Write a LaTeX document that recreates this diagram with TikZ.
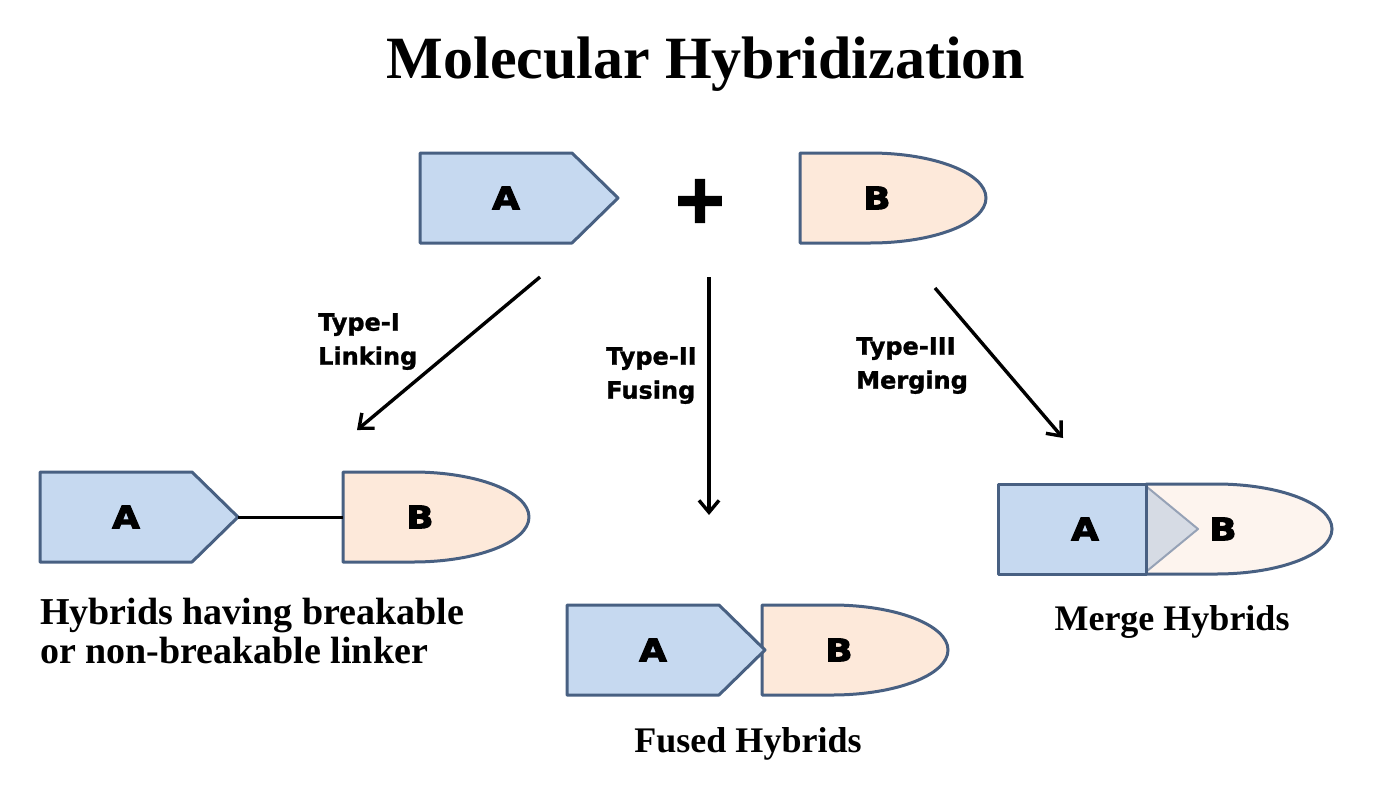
\documentclass[tikz,border=0pt]{standalone}
\usepackage{fontspec}
\setmainfont{Liberation Serif}
\newfontfamily\typefont[FakeBold=1.2]{DejaVu Sans Bold}
\newfontfamily\letterfont[FakeBold=3.5,FakeStretch=1.15]{DejaVu Sans Bold}
\newfontfamily\plusfont[FakeBold=4]{DejaVu Sans Bold}
\usetikzlibrary{arrows.meta}

\definecolor{fillA}{RGB}{198,217,240}
\definecolor{fillB}{RGB}{253,233,218}
\definecolor{fillBm}{RGB}{253,244,238}
\definecolor{edgeC}{RGB}{72,96,130}
\definecolor{triFill}{RGB}{214,219,228}
\definecolor{triEdge}{RGB}{150,162,182}

\begin{document}
\begin{tikzpicture}[x=1pt,y=-1pt]

    \tikzset{
      edge/.style = {draw=edgeC, line width=3pt, line join=round},
      letter/.style = {font=\letterfont\fontsize{31}{31}\selectfont, inner sep=0pt},
      typelbl/.style = {font=\typefont\fontsize{24}{34}\selectfont,
                        align=left, anchor=north west, inner sep=0pt},
      caption/.style = {font=\bfseries\fontsize{36}{39}\selectfont, inner sep=0pt},
      route/.style = {line width=3.4pt, -{Straight Barb[length=12pt,width=20pt,line width=3.4pt]}},
      pics/fragA/.style = {code={
        \draw[edge, fill=fillA] (0,0) -- (152,0) -- (198,45) -- (152,90) -- (0,90) -- cycle;
        \coordinate (-tip) at (198,45);
        \node[letter] (-lbl) at (86,45) {A};
      }},
      pics/fragB/.style = {code={
        \draw[edge, fill=#1] (0,0) -- (70,0)
          arc[start angle=-90, end angle=90, x radius=116, y radius=45] -- (0,90) -- cycle;
        \coordinate (-left) at (0,45);
        \node[letter] (-lbl) at (77,45) {B};
      }},
      pics/fragB/.default = fillB
    }

    \useasboundingbox (0,0) rectangle (1380,800);

    \node[font=\bfseries\fontsize{60}{60}\selectfont] (title) at (706,64) {Molecular Hybridization};

    % starting fragments
    \pic (topA) at (420,153) {fragA};
    \node[font=\plusfont\fontsize{66}{66}\selectfont, inner sep=0pt] (plus) at (700,201) {+};
    \pic (topB) at (800,153) {fragB};

    \coordinate (fromI)   at (540,277);
    \coordinate (toI)     at (357,430);
    \coordinate (fromII)  at (709,277);
    \coordinate (toII)    at (709,515);
    \coordinate (fromIII) at (935,288);
    \coordinate (toIII)   at (1063,438);
    \draw[route] (fromI) -- (toI);
    \draw[route] (fromII) -- (toII);
    \draw[route] (fromIII) -- (toIII);

    \node[typelbl] (typeI)   at (318,313) {Type-I\\Linking};
    \node[typelbl] (typeII)  at (606,347) {Type-II\\Fusing};
    \node[typelbl] (typeIII) at (856,337) {Type-III\\Merging};

    % linked hybrid
    \pic (lnkA) at (40,472) {fragA};
    \pic (lnkB) at (343,472) {fragB};
    \draw[line width=3pt] (lnkA-tip) -- (lnkB-left);
    \node[caption, font=\bfseries\fontsize{38}{39}\selectfont, align=left, anchor=north west]
      (lnkcap) at (40,598) {Hybrids having breakable\\or non-breakable linker};

    % fused hybrid
    \pic (fusB) at (762,605) {fragB};
    \pic (fusA) at (567,605) {fragA};
    \node[caption, anchor=base] (fuscap) at (748,752) {Fused Hybrids};

    % merged hybrid
    \pic (mrgB) at (1146,484) {fragB=fillBm};
    \draw[fill=triFill, draw=triEdge, line width=2pt, line join=round]
      (1147,487) -- (1198,529) -- (1147,571);
    \draw[edge, fill=fillA] (998,484) rectangle (1146,574);
    \node[letter] (mrgA) at (1085,529) {A};
    \node[caption, anchor=base] (mrgcap) at (1172,630) {Merge Hybrids};

\end{tikzpicture}
\end{document}
